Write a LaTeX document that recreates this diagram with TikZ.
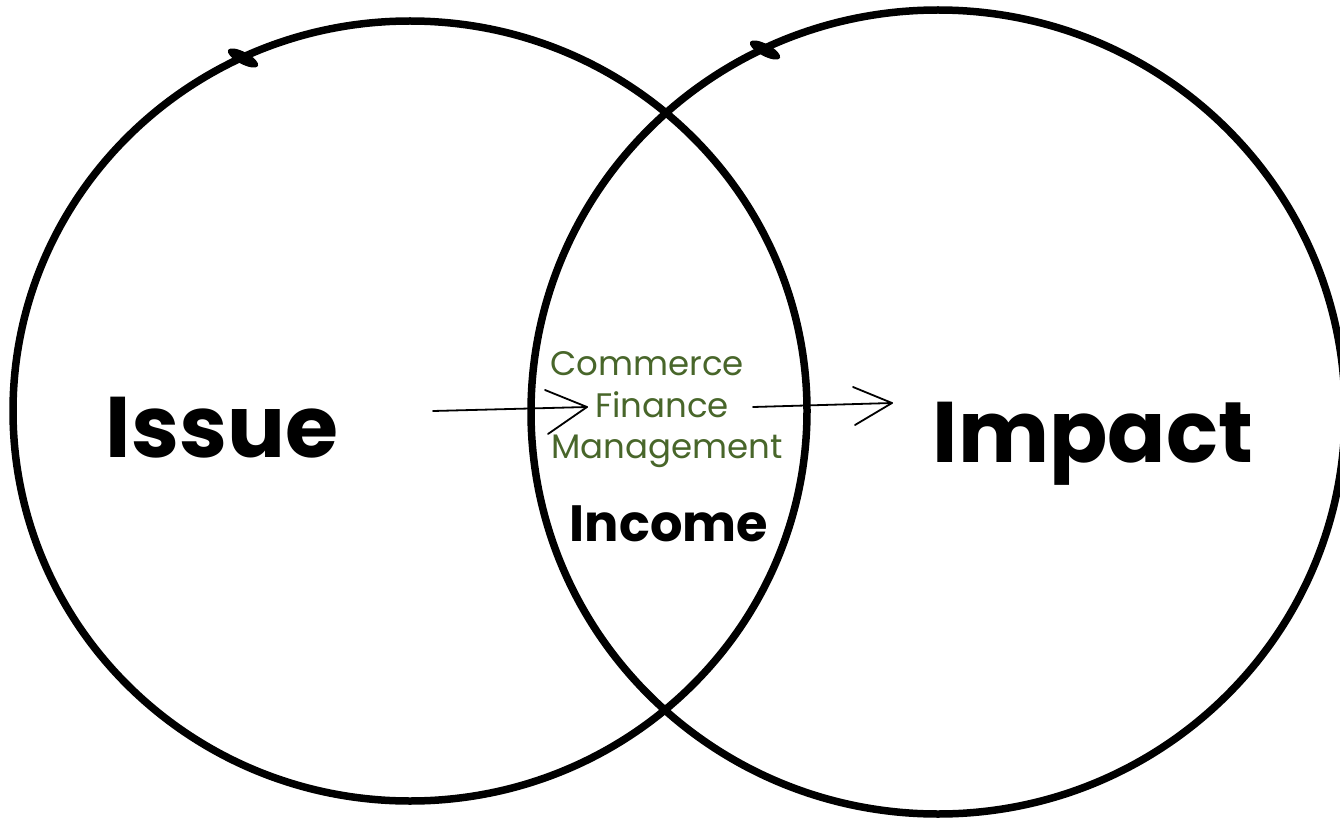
\documentclass[tikz,border=0pt]{standalone}
\usepackage{fontspec}
\setmainfont{Poppins}
\begin{document}
\begin{tikzpicture}[x=1pt,y=-1pt,
  ring/.style={line width=7.5pt, black},
  big/.style={font=\fontsize{86}{90}\selectfont\bfseries, inner sep=0pt, anchor=base},
  mid/.style={font=\fontsize{51}{56}\selectfont\bfseries, inner sep=0pt, anchor=base},
  green/.style={font=\fontsize{34}{38}\selectfont, text=leafgreen, inner sep=0pt, anchor=base},
  thin/.style={line width=1.8pt, line cap=round, line join=round}]
\definecolor{leafgreen}{RGB}{72,102,42}
\useasboundingbox (0,0) rectangle (1340,818);
\fill[white] (0,0) rectangle (1340,818);
% the two hand-drawn circles
\coordinate (lc) at (410,411);
\coordinate (rc) at (938,412);
\draw[ring] (lc) ellipse [x radius=397pt, y radius=390pt];
\draw[ring] (rc) ellipse [x radius=407pt, y radius=402pt];
% small ink blobs of the hand-drawn strokes
\fill[rotate around={-28:(243,58)}] (243,58) ellipse (17pt and 6pt);
\fill[rotate around={-28:(765,50)}] (765,50) ellipse (17pt and 6pt);
% labels
\node[big] (issue) at (222,457) {Issue};
\node[big] (impact) at (1093,462) {Impact};
\node[mid] (income) at (669,541) {Income};
\node[green] (comm) at (647,375) {Commerce};
\node[green] (fin) at (662,417) {Finance};
\node[green] (mgmt) at (667,458) {Management};
% arrows
\coordinate (a1s) at (433,411);
\coordinate (a1t) at (587,407);
\coordinate (a2s) at (753,407);
\coordinate (a2t) at (892,403);
\draw[thin] (a1s) -- (a1t);
\draw[thin] (545,390) -- (a1t) -- (548,434);
\draw[thin] (a2s) -- (a2t);
\draw[thin] (853,387) -- (a2t) -- (855,425);
\end{tikzpicture}
\end{document}
